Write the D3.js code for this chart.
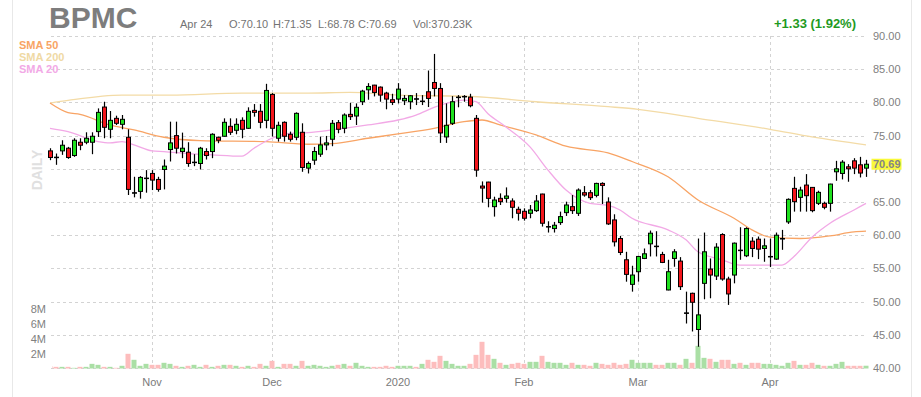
<!DOCTYPE html>
<html>
<head>
<meta charset="utf-8">
<script src="https://cdn.jsdelivr.net/npm/d3@7"></script>
<style>
  body { margin: 0; background: #fff; }
  text { font-family: "Liberation Sans", Arial, Helvetica, sans-serif; }
</style>
</head>
<body>
<div id="chart"></div>
<script>
// daily candles, Oct 9 2019 .. Apr 24 2020 (index = trading day)
var opens = [72.7,71.75,72.7,73.1,72.0,74.0,74.0,74.0,75.6,79.3,75.95,77.6,76.7,74.75,66.35,66.6,68.55,69.3,68.4,69.9,
  72.9,75.0,72.6,72.5,70.95,70.8,72.6,72.6,74.75,74.9,76.4,75.8,77.3,76.1,78.8,78.66,77.3,81.2,74.6,77.0,
  75.2,74.75,75.5,70.1,71.3,72.2,73.6,74.45,76.95,76.1,78.2,77.95,80.1,81.9,82.6,82.3,81.4,80.4,80.5,80.25,
  80.1,80.55,80.15,81.6,83.0,82.1,74.8,76.85,80.75,80.85,80.8,77.6,67.4,68.0,64.3,65.55,65.55,65.15,63.9,63.6,
  63.3,63.7,66.2,61.25,61.0,61.9,63.4,64.3,63.3,66.4,66.4,66.0,67.8,65.0,62.3,59.5,56.3,52.6,54.5,56.5,
  58.7,58.35,57.1,51.75,56.5,56.1,48.25,51.25,45.8,52.75,54.9,53.85,60.1,53.4,54.0,57.75,56.9,59.1,59.4,58.0,
  56.75,56.4,59.45,62.0,67.05,65.7,67.55,67.2,64.8,64.8,64.8,69.55,69.3,70.3,71.2,70.6,70.10];
var highs = [73.1,72.3,74.3,73.3,74.6,74.6,75.5,75.5,79.1,80.1,78.7,78.0,78.1,75.95,68.8,68.9,69.8,69.8,68.8,71.4,
  77.1,77.1,75.45,74.0,72.2,73.3,73.1,75.35,74.85,77.6,77.6,77.6,77.75,79.26,79.75,79.75,82.8,81.4,77.1,77.15,
  75.6,78.5,76.85,71.1,73.3,74.85,74.95,77.35,77.35,78.35,79.95,79.85,81.9,82.9,82.65,82.4,81.6,81.3,82.9,81.1,
  81.1,81.4,81.1,84.8,87.3,82.9,79.85,80.95,81.1,81.1,81.3,78.1,68.1,68.05,65.8,66.3,67.2,65.55,64.3,64.05,
  64.55,66.05,66.25,62.1,62.0,63.55,65.05,66.05,67.05,67.4,66.8,67.9,67.97,65.7,63.15,59.9,57.5,55.4,56.9,58.0,
  60.7,60.6,57.5,56.3,57.9,56.7,51.5,51.35,59.5,60.4,56.5,58.8,60.3,53.75,58.9,61.2,61.2,59.7,59.8,59.5,
  59.5,60.4,60.8,65.55,68.8,67.3,69.2,67.25,66.7,65.05,67.75,71.2,71.3,70.7,71.6,71.8,71.35];
var lows = [71.3,70.6,72.1,71.5,71.8,72.8,73.7,72.2,74.8,74.6,74.6,76.6,75.95,66.05,65.7,65.5,66.4,66.8,66.55,66.9,
  71.1,72.3,71.6,70.3,70.4,69.9,71.4,71.6,73.85,74.85,75.1,75.2,74.6,76.0,77.85,76.1,76.1,74.85,74.1,74.1,
  74.1,74.3,69.55,69.3,70.6,71.8,72.8,73.4,75.35,75.35,77.35,76.6,79.6,80.4,80.9,80.1,78.96,79.6,79.85,79.6,
  78.96,79.6,79.6,79.3,80.9,73.9,73.9,76.6,79.26,80.1,79.26,68.8,64.9,64.2,62.8,64.55,64.9,62.55,62.2,62.2,
  62.55,63.5,61.3,60.4,60.4,61.55,62.9,63.2,62.9,65.8,65.3,65.7,64.7,61.55,58.3,57.0,53.0,51.5,53.0,56.4,
  56.8,56.8,55.8,51.7,55.25,51.75,46.7,45.5,43.2,50.35,50.5,53.25,53.15,49.5,52.75,56.3,56.7,56.7,56.4,56.0,
  55.2,56.3,57.8,61.7,63.55,63.55,63.55,63.45,64.55,63.9,63.55,68.2,68.4,68.05,69.2,68.7,68.78];
var closes = [71.7,71.7,73.55,71.7,74.3,73.55,74.6,74.9,78.5,76.25,77.3,76.85,77.45,66.9,66.4,68.7,68.6,68.3,66.9,70.4,
  73.9,73.1,73.1,70.8,71.0,73.1,72.0,75.2,74.3,77.0,75.5,76.7,75.95,78.66,78.5,77.0,81.8,76.1,76.55,74.9,
  74.45,78.35,70.2,70.8,72.6,73.6,73.9,76.85,75.95,78.1,77.85,79.26,81.7,82.4,81.5,81.1,80.5,80.0,82.0,80.6,
  81.0,80.5,80.2,80.6,82.1,75.4,76.55,80.1,80.8,80.9,79.5,69.8,67.1,65.55,65.3,65.05,65.9,64.2,63.3,62.55,
  63.8,65.15,61.8,61.3,61.5,62.8,64.55,63.7,66.8,66.05,65.65,67.8,67.5,61.7,59.0,57.4,54.1,54.0,56.8,57.2,
  60.3,58.3,55.9,54.5,57.5,52.25,48.3,49.9,48.0,57.5,54.0,58.2,53.4,51.15,58.8,57.7,61.0,58.0,57.9,58.4,
  56.8,60.0,59.5,65.4,65.05,66.8,65.95,63.7,66.45,64.2,67.7,70.0,71.0,70.0,70.1,69.36,70.69];
// volume, millions of shares
var volumes = [0.3,0.22,0.22,0.22,0.09,0.22,0.22,0.62,0.49,0.22,0.22,0.09,0.36,1.96,1.16,0.36,0.62,0.49,0.49,0.76,
  0.62,0.36,0.22,0.36,0.49,0.22,0.49,0.22,0.36,0.49,0.49,0.36,0.22,0.36,0.22,0.62,0.36,1.02,0.22,0.62,
  0.62,0.36,1.02,0.36,0.49,0.36,0.22,0.36,0.49,0.62,0.36,0.76,0.36,0.22,0.22,0.22,0.36,0.22,0.36,0.36,
  0.36,0.22,0.62,1.16,0.89,1.69,1.02,0.62,0.36,0.36,0.62,1.82,3.56,1.82,1.29,0.76,0.49,0.62,0.76,0.62,
  0.89,0.89,1.69,0.89,0.76,0.76,0.49,0.76,0.49,0.49,0.36,0.76,0.62,0.49,0.76,0.49,0.62,1.16,0.76,0.76,
  0.76,0.49,0.49,0.76,0.76,0.49,1.29,0.76,3.02,1.42,1.29,0.89,1.16,1.16,0.62,0.76,0.49,0.76,0.76,0.62,
  0.62,0.49,0.36,0.76,1.02,0.49,0.49,0.76,0.49,0.36,0.36,0.62,0.89,0.36,0.36,0.36,0.37];

// moving averages: [day index, value]
var sma50 = [[0,79.9],[3,78.45],[5,78.2],[10,76.6],[14,75.85],[19,74.75],[25,74.25],[36,74.1],[43,73.7],[47,73.8],
  [53,74.6],[58,75.25],[64,76.1],[69,77.1],[72,77.35],[75,76.6],[81,75.1],[86,73.4],[93,72.4],[97,71.1],
  [103,68.8],[108,65.3],[114,62.55],[117,60.8],[120,59.7],[125,59.5],[130,59.9],[134,60.5],[136,60.6]];
var sma200 = [[0,79.9],[3,80.3],[12,81.1],[20,81.1],[32,81.4],[43,81.4],[50,81.5],[58,81.1],[70,80.9],[81,80.1],
  [93,79.35],[98,78.96],[108,77.6],[120,75.95],[127,74.8],[136,73.6]];
var sma20 = [[0,76.1],[3,75.6],[8,74.1],[10,73.9],[12,74.1],[14,73.6],[17,72.7],[19,72.6],[23,72.3],[27,72.1],
  [32,71.9],[34,73.1],[37,74.6],[40,75.35],[43,75.45],[47,75.85],[53,76.6],[58,77.35],[61,78.1],[64,79.25],
  [66,79.85],[69,80.35],[71,80.1],[73,78.3],[76,76.3],[80,73.3],[83,69.8],[86,66.8],[90,64.8],[93,64.5],
  [95,63.8],[97,62.55],[103,60.8],[106,59.3],[108,57.5],[112,56.3],[115,55.5],[120,55.5],[122,55.5],[124,56.8],
  [127,59.7],[130,61.8],[134,63.8],[136,64.8]];

var monthTicks = [17, 37, 58, 79, 98, 120];
var monthLabels = ["Nov", "Dec", "2020", "Feb", "Mar", "Apr"];
var priceTicks = [40, 45, 50, 55, 60, 65, 70, 75, 80, 85, 90];
var volTicks = [2, 4, 6, 8];
var lastPrice = 70.69;

var width = 921, height = 397;
var RED = "#f3161c", GREEN = "#1fe01f";

var svg = d3.select("#chart")
  .append("svg")
  .attr("width", width)
  .attr("height", height);

var x = d3.scaleLinear().domain([0, closes.length - 1]).range([50, 866]);
var y = d3.scaleLinear().domain([40, 90]).range([368, 36]);
var yv = d3.scaleLinear().domain([0, 8]).range([368.5, 308.5]);

// frame lines left/right
svg.append("line").attr("x1", 12.5).attr("x2", 12.5).attr("y1", 0).attr("y2", height)
  .attr("stroke", "#e8e8e8");
svg.append("line").attr("x1", 911.5).attr("x2", 911.5).attr("y1", 0).attr("y2", height)
  .attr("stroke", "#e8e8e8");

//////////// grid ////////////
svg.append("g").selectAll("line")
  .data(priceTicks).enter().append("line")
  .attr("x1", 51).attr("x2", 867)
  .attr("y1", d => Math.round(y(d)) + 0.5)
  .attr("y2", d => Math.round(y(d)) + 0.5)
  .attr("stroke", "#d3d3d3")
  .attr("stroke-dasharray", "3,3");

svg.append("g").selectAll("line")
  .data(monthTicks).enter().append("line")
  .attr("x1", d => Math.round(x(d)) + 0.5)
  .attr("x2", d => Math.round(x(d)) + 0.5)
  .attr("y1", 36).attr("y2", 369)
  .attr("stroke", "#d3d3d3")
  .attr("stroke-dasharray", "3,3");

// month labels
svg.append("g").selectAll("text")
  .data(monthTicks).enter().append("text")
  .attr("x", d => x(d))
  .attr("y", 386)
  .attr("text-anchor", "middle")
  .style("font-size", "11px")
  .style("fill", "#7a7a7a")
  .text((d, i) => monthLabels[i]);

// price labels
svg.append("g").selectAll("text")
  .data(priceTicks).enter().append("text")
  .attr("x", 873)
  .attr("y", d => y(d) + 4)
  .style("font-size", "11px")
  .style("fill", "#808080")
  .text(d => d.toFixed(2));

// volume labels
svg.append("g").selectAll("text")
  .data(volTicks).enter().append("text")
  .attr("x", 46)
  .attr("y", d => yv(d) + 4)
  .attr("text-anchor", "end")
  .style("font-size", "11px")
  .style("fill", "#808080")
  .text(d => d + "M");

//////////// volume bars ////////////
svg.append("clipPath").attr("id", "plotclip")
  .append("rect").attr("x", 52).attr("y", 0).attr("width", 820).attr("height", 397);

svg.append("g").attr("clip-path", "url(#plotclip)")
  .selectAll("rect")
  .data(volumes).enter().append("rect")
  .attr("x", (d, i) => Math.round(x(i)) - 2.5)
  .attr("y", d => yv(d))
  .attr("width", 5)
  .attr("height", d => yv(0) - yv(d))
  .attr("fill", (d, i) => closes[i] >= opens[i] ? "#aadfa5" : "#fdbdbd");

//////////// moving averages ////////////
var line = d3.line()
  .x(d => x(d[0]))
  .y(d => y(d[1]))
  .curve(d3.curveMonotoneX);

svg.append("path").datum(sma200)
  .attr("d", line).attr("fill", "none")
  .attr("stroke", "#f3dba6").attr("stroke-width", 1.3);
svg.append("path").datum(sma50)
  .attr("d", line).attr("fill", "none")
  .attr("stroke", "#f8a465").attr("stroke-width", 1.3);
svg.append("path").datum(sma20)
  .attr("d", line).attr("fill", "none")
  .attr("stroke", "#f2a9e6").attr("stroke-width", 1.3);

//////////// candles ////////////
var candles = svg.append("g").selectAll("g")
  .data(closes).enter().append("g");

candles.append("line")
  .attr("x1", (d, i) => Math.round(x(i)) + 0.5)
  .attr("x2", (d, i) => Math.round(x(i)) + 0.5)
  .attr("y1", (d, i) => y(highs[i]))
  .attr("y2", (d, i) => y(lows[i]))
  .attr("stroke", "#000")
  .attr("stroke-width", 1.2);

candles.append("rect")
  .attr("x", (d, i) => Math.round(x(i)) - 1.5)
  .attr("y", (d, i) => Math.min(y(opens[i]), y(d)))
  .attr("width", 4)
  .attr("height", (d, i) => Math.max(0.5, Math.abs(y(opens[i]) - y(d))))
  .attr("fill", (d, i) => {
    if (Math.abs(y(opens[i]) - y(d)) < 1.2) return "#000";
    return d >= opens[i] ? GREEN : RED;
  })
  .attr("stroke", "#000")
  .attr("stroke-width", 1);

//////////// header ////////////
svg.append("text")
  .attr("x", 49).attr("y", 28)
  .style("font-size", "30px")
  .style("font-weight", "bold")
  .style("fill", "#7d7d7d")
  .text("BPMC");

var info = [["Apr 24", 180], ["O:70.10", 229], ["H:71.35", 273], ["L:68.78", 318], ["C:70.69", 358], ["Vol:370.23K", 413]];
svg.append("g").selectAll("text")
  .data(info).enter().append("text")
  .attr("x", d => d[1]).attr("y", 28)
  .style("font-size", "11px")
  .style("fill", "#737373")
  .text(d => d[0]);

svg.append("text")
  .attr("x", 856).attr("y", 28)
  .attr("text-anchor", "end")
  .style("font-size", "13px")
  .style("font-weight", "bold")
  .style("fill", "#1f9a1f")
  .text("+1.33 (1.92%)");

// legend
var legend = [["SMA 50", "#f8a465"], ["SMA 200", "#efd9a4"], ["SMA 20", "#f2a9e6"]];
svg.append("g").selectAll("text")
  .data(legend).enter().append("text")
  .attr("x", 19)
  .attr("y", (d, i) => 49 + i * 12)
  .style("font-size", "11px")
  .style("font-weight", "bold")
  .style("fill", d => d[1])
  .text(d => d[0]);

svg.append("text")
  .attr("transform", "translate(42,170)rotate(-90)")
  .attr("text-anchor", "middle")
  .style("font-size", "14px")
  .style("font-weight", "bold")
  .style("fill", "#e0e0e0")
  .text("DAILY");

// last price tag
svg.append("rect")
  .attr("x", 871.5).attr("y", y(lastPrice) - 5.5)
  .attr("width", 30).attr("height", 11)
  .attr("fill", "#f9f93a");
svg.append("text")
  .attr("x", 873).attr("y", y(lastPrice) + 4)
  .style("font-size", "11px")
  .style("font-weight", "bold")
  .style("fill", "#858585")
  .text(lastPrice.toFixed(2));
</script>
</body>
</html>
